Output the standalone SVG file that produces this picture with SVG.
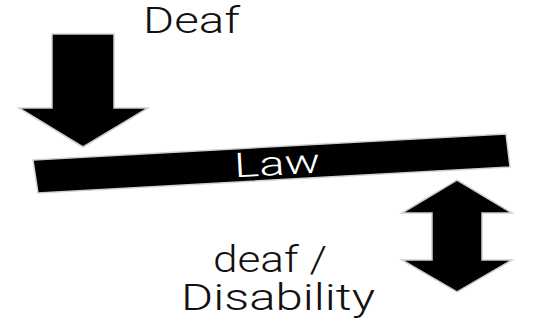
<svg xmlns="http://www.w3.org/2000/svg" width="535" height="322" viewBox="0 0 535 322">
<style>
.arrow{fill:#000;stroke:#cfcfcf;stroke-width:1.5;stroke-linejoin:miter}
.lbl{font-family:Roboto,"Liberation Sans",sans-serif;fill:#111;font-size:36px;font-weight:300}
.law{font-family:Roboto,"Liberation Sans",sans-serif;fill:#fff;font-size:34px;font-weight:300}
</style>
<rect width="535" height="322" fill="#fff"/>
<g id="deaf-label">
<text class="lbl" x="143" y="33" font-size="35" textLength="97" lengthAdjust="spacingAndGlyphs">Deaf</text>
</g>
<g id="connectors">
<polygon id="down-arrow" class="arrow" points="52,34 114,34 114,108 148,108 83,147 19,108 52,108"/>
<polygon id="updown-arrow" class="arrow" points="457,180 512,213 482,213 482,260 512,260 457,292 402,260 432,260 432,213 402,213"/>
</g>
<g id="law">
<polygon fill="#000" stroke="#d0d0d0" stroke-width="1.5" points="33,160 506,134 510,167 38,193"/>
<text class="law" x="277" y="175" text-anchor="middle" textLength="86" lengthAdjust="spacingAndGlyphs" transform="rotate(-3.15 277 163)">Law</text>
</g>
<g id="deaf-disability-label">
<text class="lbl" x="213" y="272" textLength="114" lengthAdjust="spacingAndGlyphs">deaf /</text>
<text class="lbl" x="181" y="310" textLength="194" lengthAdjust="spacingAndGlyphs">Disability</text>
</g>
</svg>
